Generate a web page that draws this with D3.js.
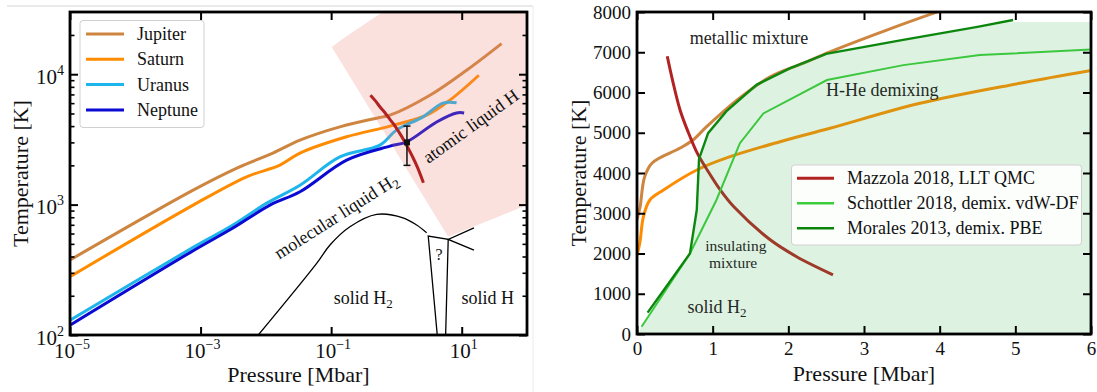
<!DOCTYPE html>
<html>
<head>
<meta charset="utf-8">
<script src="https://cdn.jsdelivr.net/npm/d3@7"></script>
<style>
  body { margin: 0; background: #fff; }
  text { font-family: "Liberation Serif", "DejaVu Serif", serif; }
</style>
</head>
<body>
<svg id="chart" width="1097" height="392"></svg>
<script>
// ---- left panel: planetary adiabats, P [Mbar] vs T [K], log-log ----
const planets = ["Jupiter", "Saturn", "Uranus", "Neptune"];
const planetColors = ["#cd853f", "#ff8c00", "#1eb4ec", "#0a0ad2"];

const jupiter = [[1e-5,376],[7.7e-4,1291],[3.6e-3,1905],[0.0128,2482],[0.0333,3120],
  [0.136,3945],[0.558,4660],[0.795,4850],[3.26,6900],[11.9,10740],[40.8,17180]];
const saturn = [[1e-5,280],[7.7e-4,991],[5.08e-3,1633],[0.0164,2010],[0.0333,2482],
  [0.1726,3311],[0.795,3999],[2.9,4853],[6.59,6325],[18.3,9820]];
const uranus = [[1e-5,130],[7.7e-4,470],[3.13e-3,697],[0.0103,1026],[0.0333,1409],
  [0.136,2323],[0.558,2858],[1.0,3726],[2.55,4710],[5.15,5998],[8.35,6030]];
const neptune = [[1e-5,119],[7.7e-4,443],[3.13e-3,661],[0.01155,991],[0.0333,1254],
  [0.1726,2193],[0.795,2806],[1.43,3027],[4.13,4305],[8.35,5046],[10.9,5046]];

// atomic liquid H region (outline, clipped to the axes)
const atomicRegion = [[0.948,40000],[0.621,30000],[0.421,26400],[0.276,22900],[0.163,19200],[0.102,16200],
  [6.21,566],[99.5,991],[300,1291],[300,40000]];
// melting line of solid H2
const meltLine = [[7.66e-3,100],[0.06,354],[0.096,490],[0.194,676],[0.498,841],[1.26,792],[2.04,697],[2.9,608]];
// the "?" phase box and the branches towards solid H
const questionBox = [[4.22,100],[3.07,574],[6.21,541],[5.67,100]];
const solidHBranch = [[15.4,664],[6.21,541],[15.4,448]];
// single data point with error bar
const errPoint = {p: 1.45, t: 3000, lo: 2000, hi: 4000};

// ---- shared: Mazzola 2018 LLT QMC line ----
const mazzola = [[0.40,6900],[0.47,6300],[0.57,5560],[0.68,5000],[0.80,4480],[0.93,4070],[1.10,3580],
  [1.28,3160],[1.76,2340],[2.11,1920],[2.59,1470]];

// ---- right panel: linear P-T ----
const jupiterLin = [[0.0,2850],[0.04,3150],[0.1,3900],[0.2,4250],[0.57,4620],[0.74,4820],[0.92,5150],
  [1.32,5810],[1.76,6390],[2.2,6730],[2.55,7010],[3.30,7550],[3.92,7970],[4.2,8150]];
const saturnLin = [[0.0,1950],[0.04,2300],[0.083,2900],[0.17,3329],[0.35,3578],[0.79,4075],[1.23,4405],
  [1.89,4778],[2.55,5110],[3.74,5731],[5.06,6228],[6.0,6545]];
const schottler = [[0.06,180],[0.7,2000],[1.05,3330],[1.36,4740],[1.67,5480],[2.51,6310],[3.52,6680],
  [4.53,6930],[6.0,7070]];
const morales = [[0.14,530],[0.70,2000],[0.79,3080],[0.82,4350],[0.94,4990],[1.18,5530],[1.58,6190],
  [2.02,6600],[2.5,6960],[3.5,7300],[4.5,7630],[4.97,7800]];
const demixRegion = [[0,0],[0.06,180],[0.70,2000],[0.79,3080],[0.82,4350],[0.94,4990],[1.18,5530],
  [1.58,6190],[2.02,6600],[2.5,6960],[3.5,7300],[4.5,7630],[4.97,7750],[6,7750],[6,0]];
const rightSeries = ["Mazzola 2018, LLT QMC", "Schottler 2018, demix. vdW-DF", "Morales 2013, demix. PBE"];
const rightColors = ["#b22222", "#3ccc3c", "#0a840a"];

const svg = d3.select("#chart");
const defs = svg.append("defs");

// faint page borders from the source image
svg.append("line").attr("x1", 7).attr("x2", 533).attr("y1", 6).attr("y2", 6)
  .attr("stroke", "#d6d6d6").attr("stroke-width", 1.2);
svg.append("line").attr("x1", 533).attr("x2", 533).attr("y1", 6).attr("y2", 392)
  .attr("stroke", "#ececec").attr("stroke-width", 1);

// ================= LEFT =================
const xL = d3.scaleLog().domain([1e-5, 1e2]).range([70, 527]);
const yL = d3.scaleLog().domain([100, 30000]).range([335, 12]);
const lineL = d3.line().x(d => xL(d[0])).y(d => yL(d[1]));
const smoothL = d3.line().x(d => xL(d[0])).y(d => yL(d[1])).curve(d3.curveCatmullRom.alpha(0.5));

defs.append("clipPath").attr("id", "clipL").append("rect")
  .attr("x", 70).attr("y", 12).attr("width", 457).attr("height", 323);

const L = svg.append("g");
const plotL = L.append("g").attr("clip-path", "url(#clipL)");

[jupiter, saturn, uranus, neptune].forEach((s, i) => {
  plotL.append("path").attr("d", smoothL(s)).attr("fill", "none")
    .attr("stroke", planetColors[i]).attr("stroke-width", 3);
});

plotL.append("path").attr("d", lineL(atomicRegion) + "Z")
  .attr("fill", "#f08070").attr("opacity", 0.24);

plotL.append("path").attr("d", smoothL(meltLine)).attr("fill", "none")
  .attr("stroke", "#000").attr("stroke-width", 1.3);
[questionBox, solidHBranch].forEach(s => {
  plotL.append("path").attr("d", lineL(s)).attr("fill", "none")
    .attr("stroke", "#000").attr("stroke-width", 1.3);
});

plotL.append("path").attr("d", smoothL(mazzola)).attr("fill", "none")
  .attr("stroke", "#b22222").attr("stroke-width", 3);

// error bar
const ex = xL(errPoint.p);
plotL.append("line").attr("x1", ex).attr("x2", ex)
  .attr("y1", yL(errPoint.lo)).attr("y2", yL(errPoint.hi)).attr("stroke", "#111").attr("stroke-width", 1.5);
[errPoint.lo, errPoint.hi].forEach(v => {
  plotL.append("line").attr("x1", ex - 3.5).attr("x2", ex + 3.5)
    .attr("y1", yL(v)).attr("y2", yL(v)).attr("stroke", "#111").attr("stroke-width", 1.5);
});
plotL.append("rect").attr("x", ex - 3).attr("y", yL(errPoint.t) - 3)
  .attr("width", 6).attr("height", 6).attr("fill", "#111");

// annotations
function rotLabel(g, p, t, angle, parts) {
  const tx = g.append("text")
    .attr("transform", `translate(${xL(p)},${yL(t)}) rotate(${angle})`)
    .attr("text-anchor", "middle").attr("dy", "0.35em").attr("font-size", 18).attr("fill", "#111");
  parts.forEach(pt => {
    const s = tx.append("tspan").text(pt.t);
    if (pt.sub) s.attr("font-size", 13).attr("dy", 4);
  });
}
rotLabel(L, 0.1186, 817, -32.6, [{t: "molecular liquid H"}, {t: "2", sub: true}]);
rotLabel(L, 13.7, 4010, -35.8, [{t: "atomic liquid H"}]);

const sH2 = L.append("text").attr("x", xL(0.31)).attr("y", yL(173))
  .attr("text-anchor", "middle").attr("font-size", 18).attr("fill", "#111");
sH2.append("tspan").text("solid H");
sH2.append("tspan").attr("font-size", 13).attr("dy", 4).text("2");
L.append("text").attr("x", xL(25)).attr("y", yL(173))
  .attr("text-anchor", "middle").attr("font-size", 18).attr("fill", "#111").text("solid H");
L.append("text").attr("x", xL(4.48)).attr("y", yL(376))
  .attr("text-anchor", "middle").attr("font-size", 16).attr("fill", "#111").text("?");

// axes
const xTicksL = [1e-5, 1e-3, 1e-1, 1e1];
const xTickExp = ["\u22125", "\u22123", "\u22121", "1"];
const yTicksL = [1e2, 1e3, 1e4];
const yTickExp = ["2", "3", "4"];
const yMinorL = [200, 300, 400, 500, 600, 700, 800, 900, 2000, 3000, 4000, 5000, 6000, 7000, 8000, 9000, 20000];

function styleAxis(g, w) {
  g.select(".domain").remove();
  g.selectAll("line").attr("stroke", "#000").attr("stroke-width", w);
}
L.append("g").attr("transform", "translate(0,335)")
  .call(d3.axisBottom(xL).tickValues(xTicksL).tickSize(-8).tickFormat(() => "")).call(styleAxis, 2);
L.append("g").attr("transform", "translate(0,12)")
  .call(d3.axisTop(xL).tickValues(xTicksL).tickSize(-8).tickFormat(() => "")).call(styleAxis, 2);
L.append("g").attr("transform", "translate(70,0)")
  .call(d3.axisLeft(yL).tickValues(yTicksL).tickSize(-8).tickFormat(() => "")).call(styleAxis, 2);
L.append("g").attr("transform", "translate(527,0)")
  .call(d3.axisRight(yL).tickValues(yTicksL).tickSize(-8).tickFormat(() => "")).call(styleAxis, 2);
L.append("g").attr("transform", "translate(70,0)")
  .call(d3.axisLeft(yL).tickValues(yMinorL).tickSize(-4.5).tickFormat(() => "")).call(styleAxis, 1.6);
L.append("g").attr("transform", "translate(527,0)")
  .call(d3.axisRight(yL).tickValues(yMinorL).tickSize(-4.5).tickFormat(() => "")).call(styleAxis, 1.6);

function powLabel(g, x, y, exp, anchor) {
  const t = g.append("text").attr("x", x).attr("y", y).attr("text-anchor", anchor)
    .attr("font-size", 21).attr("fill", "#111");
  t.append("tspan").text("10");
  t.append("tspan").attr("dy", -9).attr("font-size", 14).text(exp);
}
xTicksL.forEach((v, i) => powLabel(L, xL(v) + 2, 358, xTickExp[i], "middle"));
yTicksL.forEach((v, i) => powLabel(L, 64, yL(v) + 9.5, yTickExp[i], "end"));

L.append("rect").attr("x", 70).attr("y", 12).attr("width", 457).attr("height", 323)
  .attr("fill", "none").attr("stroke", "#000").attr("stroke-width", 2.8);

L.append("text").attr("x", 298.5).attr("y", 382).attr("text-anchor", "middle")
  .attr("font-size", 22).attr("fill", "#111").text("Pressure [Mbar]");
L.append("text").attr("transform", "translate(28,173.5) rotate(-90)").attr("text-anchor", "middle")
  .attr("font-size", 22).attr("fill", "#111").text("Temperature [K]");

// legend
const legL = L.append("g");
legL.append("rect").attr("x", 80).attr("y", 20.5).attr("width", 124).attr("height", 107).attr("rx", 3)
  .attr("fill", "#fff").attr("fill-opacity", 0.85).attr("stroke", "#d0d0d0");
planets.forEach((name, i) => {
  const y = 34 + i * 25.3;
  legL.append("line").attr("x1", 86).attr("x2", 124).attr("y1", y).attr("y2", y)
    .attr("stroke", planetColors[i]).attr("stroke-width", 3);
  legL.append("text").attr("x", 137).attr("y", y + 6).attr("font-size", 18).attr("fill", "#111").text(name);
});

// ================= RIGHT =================
const xR = d3.scaleLinear().domain([0, 6]).range([637, 1091]);
const yR = d3.scaleLinear().domain([0, 8000]).range([334, 12]);
const lineR = d3.line().x(d => xR(d[0])).y(d => yR(d[1]));
const smoothR = d3.line().x(d => xR(d[0])).y(d => yR(d[1])).curve(d3.curveCatmullRom.alpha(0.5));

defs.append("clipPath").attr("id", "clipR").append("rect")
  .attr("x", 637).attr("y", 12).attr("width", 454).attr("height", 322);

const R = svg.append("g");
const plotR = R.append("g").attr("clip-path", "url(#clipR)");

plotR.append("path").attr("d", smoothR(jupiterLin)).attr("fill", "none")
  .attr("stroke", planetColors[0]).attr("stroke-width", 3);
plotR.append("path").attr("d", smoothR(saturnLin)).attr("fill", "none")
  .attr("stroke", planetColors[1]).attr("stroke-width", 3);
plotR.append("path").attr("d", smoothR(mazzola)).attr("fill", "none")
  .attr("stroke", rightColors[0]).attr("stroke-width", 3);
plotR.append("path").attr("d", lineR(schottler)).attr("fill", "none")
  .attr("stroke", rightColors[1]).attr("stroke-width", 2);
plotR.append("path").attr("d", lineR(morales)).attr("fill", "none")
  .attr("stroke", rightColors[2]).attr("stroke-width", 2.4);

function rText(p, t, str, color, size) {
  return R.append("text").attr("x", xR(p)).attr("y", yR(t)).attr("text-anchor", "middle")
    .attr("font-size", size).attr("fill", color).text(str);
}
rText(1.48, 7205, "metallic mixture", "#222", 18);
rText(3.24, 5913, "H-He demixing", "#1e2a26", 18);
rText(1.306, 2070, "insulating", "#1e2a26", 15.5);
rText(1.27, 1630, "mixture", "#1e2a26", 15.5);
const sH2R = R.append("text").attr("x", xR(1.057)).attr("y", yR(522)).attr("text-anchor", "middle")
  .attr("font-size", 18).attr("fill", "#1e2a26");
sH2R.append("tspan").text("solid H");
sH2R.append("tspan").attr("font-size", 13).attr("dy", 4).text("2");

plotR.append("path").attr("d", lineR(demixRegion) + "Z")
  .attr("fill", "#3cb44b").attr("opacity", 0.17);

const xTicksR = [0, 1, 2, 3, 4, 5, 6];
const yTicksR = [0, 1000, 2000, 3000, 4000, 5000, 6000, 7000, 8000];
function styleR(g) {
  styleAxis(g, 2);
  g.attr("font-size", 19).attr("font-family", "Liberation Serif, serif");
  g.selectAll("text").attr("fill", "#111");
}
R.append("g").attr("transform", "translate(0,334)")
  .call(d3.axisBottom(xR).tickValues(xTicksR).tickSize(-8).tickPadding(7.5).tickFormat(d3.format("d"))).call(styleR);
R.append("g").attr("transform", "translate(0,12)")
  .call(d3.axisTop(xR).tickValues(xTicksR).tickSize(-8).tickFormat(() => "")).call(styleR);
R.append("g").attr("transform", "translate(637,0)")
  .call(d3.axisLeft(yR).tickValues(yTicksR).tickSize(-8).tickPadding(6).tickFormat(d3.format("d"))).call(styleR);
R.append("g").attr("transform", "translate(1091,0)")
  .call(d3.axisRight(yR).tickValues(yTicksR).tickSize(-8).tickFormat(() => "")).call(styleR);

R.append("rect").attr("x", 637).attr("y", 12).attr("width", 454).attr("height", 322)
  .attr("fill", "none").attr("stroke", "#000").attr("stroke-width", 2.8);

R.append("text").attr("x", 864).attr("y", 381).attr("text-anchor", "middle")
  .attr("font-size", 22).attr("fill", "#111").text("Pressure [Mbar]");
R.append("text").attr("transform", "translate(586,173) rotate(-90)").attr("text-anchor", "middle")
  .attr("font-size", 22).attr("fill", "#111").text("Temperature [K]");

const legR = R.append("g");
legR.append("rect").attr("x", 791.5).attr("y", 165).attr("width", 290).attr("height", 80).attr("rx", 3)
  .attr("fill", "#fff").attr("fill-opacity", 0.9).attr("stroke", "#d0d0d0");
rightSeries.forEach((name, i) => {
  const y = 178.3 + i * 25;
  legR.append("line").attr("x1", 797).attr("x2", 834).attr("y1", y).attr("y2", y)
    .attr("stroke", rightColors[i]).attr("stroke-width", i === 0 ? 3 : 2.4);
  legR.append("text").attr("x", 847).attr("y", y + 6).attr("font-size", 18).attr("fill", "#111").text(name);
});
</script>
</body>
</html>
